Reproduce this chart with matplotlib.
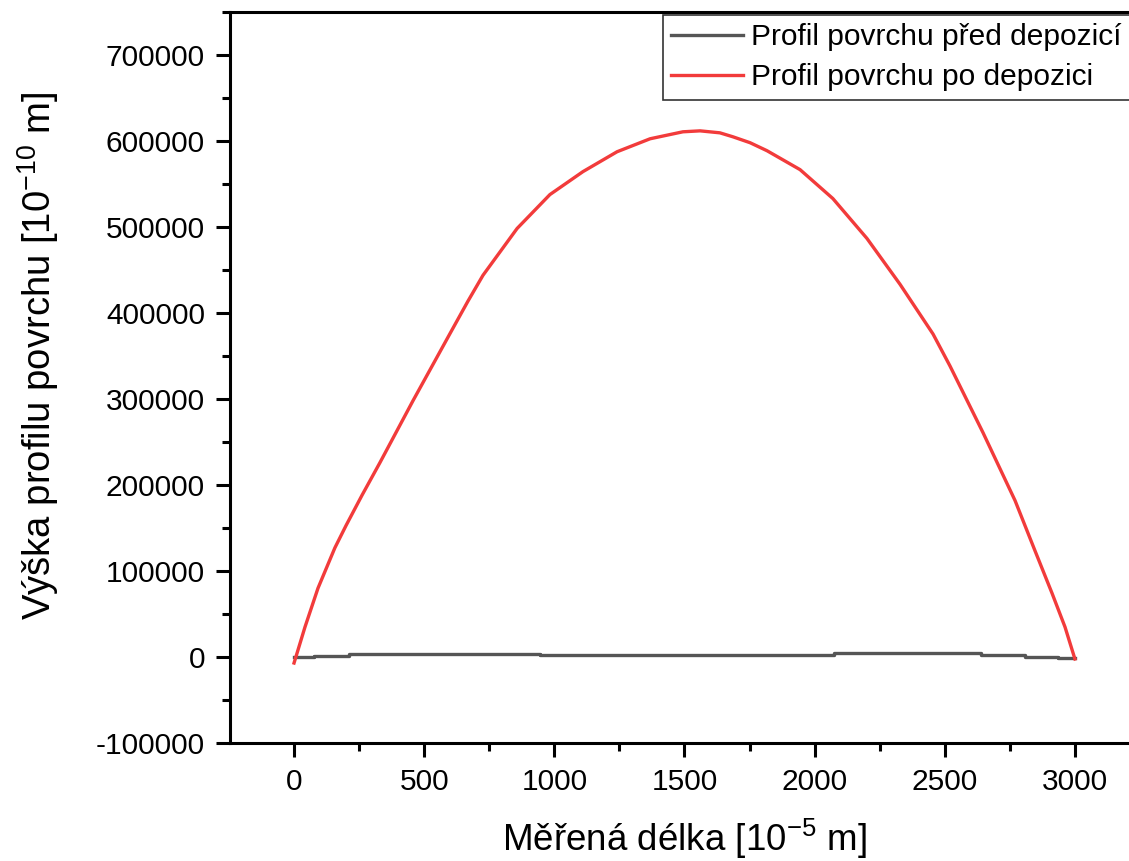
import numpy as np
import matplotlib

matplotlib.use("Agg")
import matplotlib.pyplot as plt  # noqa: E402
from matplotlib.ticker import MultipleLocator  # noqa: E402

plt.rcParams["font.family"] = ["Liberation Sans", "DejaVu Sans"]
plt.rcParams["axes.unicode_minus"] = False
plt.rcParams["mathtext.fontset"] = "custom"
plt.rcParams["mathtext.rm"] = "Liberation Sans"
plt.rcParams["mathtext.it"] = "Liberation Sans"
plt.rcParams["mathtext.default"] = "rm"

# surface profile after deposition
x_po = [0, 42, 92, 157, 200, 261, 330, 457, 599, 668, 726, 857, 983, 1110,
        1241, 1368, 1494, 1560, 1636, 1686, 1752, 1817, 1944, 2070, 2201, 2328,
        2455, 2520, 2647, 2770, 2846, 2912, 2962, 3000]
y_po = [-7000, 34800, 80000, 127000, 153000, 188000, 226000, 298000, 376000,
        413700, 443900, 498300, 537700, 564400, 587500, 602600, 610700, 611800,
        609500, 604900, 598000, 588700, 566700, 533100, 486700, 433400, 375500,
        338400, 260800, 181900, 124000, 74200, 34800, -2300]

# surface profile before deposition (nearly flat, stepped)
x_pred = [0, 75, 210, 400, 945, 2075, 2640, 2810, 2935, 3000]
y_pred = [-500, 1500, 3000, 4000, 2500, 4300, 2300, 400, -1500, -1500]

GREY = "#555555"
RED = "#f23b3b"
FS = 21.5

fig = plt.figure(figsize=(11.29, 8.61), dpi=100)
ax = fig.add_axes([230 / 1129, 118 / 861, (1140 - 230) / 1129, (743 - 12) / 861])

ax.plot(x_pred, y_pred, color=GREY, lw=2.4, drawstyle="steps-post",
        label="Profil povrchu před depozicí")
ax.plot(x_po, y_po, color=RED, lw=2.4, label="Profil povrchu po depozici")

ax.set_xlim(-246, 3250)
ax.set_ylim(-100000, 750000)
ax.xaxis.set_minor_locator(MultipleLocator(250))
ax.yaxis.set_minor_locator(MultipleLocator(50000))
ax.set_xticks(np.arange(0, 3001, 500))
ax.set_yticks(np.arange(-100000, 700001, 100000))

for side in ax.spines.values():
    side.set_linewidth(2.2)
ax.tick_params(which="major", direction="out", length=10, width=2.2,
               labelsize=FS, pad=8)
ax.tick_params(which="minor", direction="out", length=5.5, width=2.2)

ax.set_xlabel("Měřená délka [10$^{-5}$ m]", fontsize=26.5, labelpad=15)
ax.set_ylabel("Výška profilu povrchu [10$^{-10}$ m]", fontsize=27.5, labelpad=25)
ax.yaxis.label.set_y(0.53)

leg = ax.legend(loc="upper left",
                bbox_to_anchor=(663 / 1129, 1 - 97 / 861, (1140 - 663) / 1129, 82 / 861),
                bbox_transform=fig.transFigure, mode="expand", fontsize=FS,
                fancybox=False, borderaxespad=0, borderpad=0.28,
                handlelength=2.4, handletextpad=0.27, labelspacing=0.4)
leg.get_frame().set_edgecolor("#333333")
leg.get_frame().set_linewidth(1.2)
leg.get_frame().set_alpha(1)

fig.savefig("out.png", dpi=100)
